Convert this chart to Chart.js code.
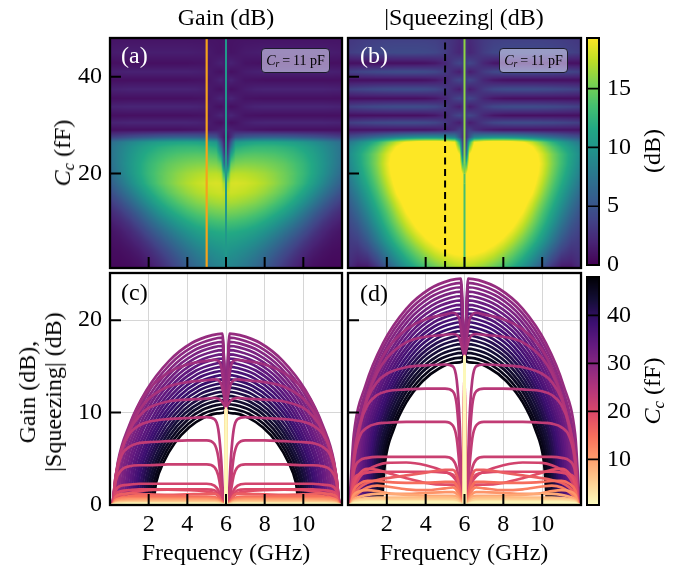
<!DOCTYPE html>
<html>
<head>
<meta charset="utf-8">
<title>Gain and squeezing versus coupling capacitance</title>
<script src="https://cdn.jsdelivr.net/npm/chart.js"></script>
<style>
  html, body { margin: 0; padding: 0; background: #fff; }
  #fig { position: relative; width: 688px; height: 573px; overflow: hidden;
         font-family: 'Liberation Serif', 'Times New Roman', serif; color: #000; }
  #fig canvas { position: absolute; left: 0; top: 0; }
  .txt { position: absolute; white-space: nowrap; font-size: 24px; line-height: 1; }
  .ctr { transform: translate(-50%, -50%); }
  .rot { transform: translate(-50%, -50%) rotate(-90deg); text-align: center; }
  sub { font-size: 0.7em; vertical-align: -0.25em; line-height: 0; }
  .box { position: absolute; box-sizing: border-box; border: 1.5px solid #1c1c2c; border-radius: 4px;
         background: rgba(214, 214, 240, 0.6); font-size: 14px; line-height: 1;
         display: flex; align-items: center; justify-content: center; white-space: nowrap; }
</style>
</head>
<body>
<div id="fig">
  <canvas id="panelA" width="688" height="573"></canvas>
  <canvas id="panelB" width="688" height="573"></canvas>
  <canvas id="panelC" width="688" height="573"></canvas>
  <canvas id="panelD" width="688" height="573"></canvas>
  <canvas id="barDb" width="688" height="573"></canvas>
  <canvas id="barCc" width="688" height="573"></canvas>

  <div class="txt ctr" style="left:226px;top:17px">Gain (dB)</div>
  <div class="txt ctr" style="left:464px;top:17px">|Squeezing| (dB)</div>
  <div class="txt rot" style="left:62px;top:153px"><i>C<sub>c</sub></i> (fF)</div>
  <div class="txt rot" style="left:40px;top:392px;line-height:26px">Gain (dB),<br>|Squeezing| (dB)</div>
  <div class="txt ctr" style="left:226px;top:552px">Frequency (GHz)</div>
  <div class="txt ctr" style="left:464px;top:552px">Frequency (GHz)</div>
  <div class="txt rot" style="left:652px;top:151px">(dB)</div>
  <div class="txt rot" style="left:652px;top:391px"><i>C<sub>c</sub></i> (fF)</div>

  <div class="txt" style="left:121px;top:43px;color:#fff">(a)</div>
  <div class="txt" style="left:360px;top:43px;color:#fff">(b)</div>
  <div class="txt" style="left:121px;top:280px">(c)</div>
  <div class="txt" style="left:360px;top:281px">(d)</div>

  <div class="box" style="left:261px;top:48px;width:69px;height:25px"><i>C<sub>r</sub></i>&thinsp;=&thinsp;11 pF</div>
  <div class="box" style="left:499px;top:48px;width:69px;height:25px"><i>C<sub>r</sub></i>&thinsp;=&thinsp;11 pF</div>
</div>

<script>
// ---------------------------------------------------------------- axes
const FREQ_MIN = 0, FREQ_MAX = 12, CENTER_FREQ = 6;
const CC_MIN = 0.5, CC_MAX = 48;
const MAP_DB_MAX = 19.3;
const LINE_DB_MAX = 25.1;
const FREQ_TICKS = [2, 4, 6, 8, 10];
const CC_TICKS = [20, 40];
const DB_TICKS = [0, 10, 20];
const BAR_DB_TICKS = [0, 5, 10, 15];
const BAR_CC_TICKS = [10, 20, 30, 40];
const CUT_FREQ = 5;

// ---------------------------------------------------------------- maps at Cr = 11 pF
// left half of the frequency grid; the maps are mirror-symmetric about 6 GHz
const MAP_FREQ = [0, 0.5, 1, 1.5, 2, 2.5, 3, 3.5, 4, 4.5, 5, 5.5, 5.75, 5.9];
const MAP_CC = [0.5, 2, 4, 6, 8, 10, 12, 14, 16, 18, 20, 22, 24, 25.5, 26.5, 27.5,
                29, 30.5, 32, 33.8, 35.5, 37.4, 39.3, 41, 42.8, 45, 48];

const GAIN_MAP = [
  [0.4, 0.4, 0.5, 0.7, 1.2, 2.0, 3.0, 4.2, 5.5, 6.6, 7.6, 8.3, 8.6, 8.8],
  [0.5, 0.5, 0.7, 1.0, 1.6, 2.5, 3.6, 4.8, 6.1, 7.2, 8.1, 8.8, 9.0, 9.2],
  [0.6, 0.7, 1.0, 1.5, 2.3, 3.4, 4.6, 5.9, 7.1, 8.2, 9.0, 9.6, 9.8, 10.0],
  [0.8, 1.0, 1.5, 2.2, 3.3, 4.6, 5.9, 7.2, 8.4, 9.4, 10.1, 10.6, 10.7, 10.9],
  [1.0, 1.4, 2.1, 3.2, 4.6, 6.0, 7.4, 8.7, 9.8, 10.7, 11.3, 11.7, 11.8, 11.9],
  [1.5, 2.1, 3.1, 4.5, 6.1, 7.7, 9.1, 10.4, 11.5, 12.4, 13.0, 13.4, 13.5, 13.6],
  [2.2, 3.1, 4.4, 6.0, 7.8, 9.5, 11.0, 12.2, 13.3, 14.1, 14.7, 15.1, 15.2, 15.3],
  [3.2, 4.4, 6.0, 7.8, 9.6, 11.3, 12.7, 13.9, 14.9, 15.7, 16.2, 16.6, 16.7, 16.6],
  [4.4, 5.9, 7.6, 9.4, 11.2, 12.8, 14.2, 15.3, 16.2, 16.9, 17.4, 17.7, 17.8, 17.5],
  [5.6, 7.2, 9.0, 10.8, 12.5, 14.0, 15.2, 16.2, 17.0, 17.6, 18.0, 18.2, 18.1, 16.5],
  [6.5, 8.1, 9.8, 11.4, 12.9, 14.1, 15.1, 15.9, 16.5, 16.9, 17.2, 17.3, 17.0, 12.5],
  [7.0, 8.5, 10.0, 11.4, 12.7, 13.7, 14.5, 15.0, 15.4, 15.6, 15.7, 15.5, 14.5, 6.5],
  [7.2, 8.5, 9.8, 11.0, 12.0, 12.8, 13.4, 13.8, 14.0, 14.1, 14.0, 13.6, 10.5, 3.5],
  [7.2, 8.3, 9.4, 10.4, 11.2, 11.9, 12.3, 12.6, 12.7, 12.7, 12.4, 11.8, 7.0, 2.2],
  [6.8, 7.7, 8.6, 9.4, 10.1, 10.6, 11.0, 11.2, 11.3, 11.2, 10.8, 10.0, 5.0, 1.8],
  [3.6, 4.1, 4.6, 5.0, 5.3, 5.6, 5.8, 5.9, 5.9, 5.8, 5.5, 4.8, 2.4, 1.2],
  [0.8, 0.8, 0.8, 0.8, 0.8, 0.8, 0.8, 0.8, 0.9, 1.0, 1.2, 1.5, 1.8, 1.8],
  [1.8, 1.9, 2.0, 2.0, 2.0, 2.0, 2.0, 2.0, 2.0, 1.9, 1.6, 1.0, 0.8, 1.2],
  [0.8, 0.8, 0.8, 0.8, 0.8, 0.8, 0.8, 0.8, 0.8, 0.9, 1.0, 1.6, 2.0, 1.6],
  [1.8, 1.9, 2.0, 2.0, 2.0, 2.0, 2.0, 2.0, 2.0, 1.9, 1.6, 1.0, 0.8, 1.2],
  [0.8, 0.8, 0.8, 0.8, 0.8, 0.8, 0.8, 0.8, 0.8, 0.9, 1.0, 1.6, 2.0, 1.6],
  [1.7, 1.8, 1.9, 1.9, 1.9, 1.9, 1.9, 1.9, 1.9, 1.8, 1.5, 1.0, 0.8, 1.2],
  [0.8, 0.8, 0.8, 0.8, 0.8, 0.8, 0.8, 0.8, 0.8, 0.9, 1.0, 1.5, 1.9, 1.5],
  [1.6, 1.7, 1.8, 1.8, 1.8, 1.8, 1.8, 1.8, 1.8, 1.7, 1.5, 1.0, 0.8, 1.2],
  [0.8, 0.8, 0.8, 0.8, 0.8, 0.8, 0.8, 0.8, 0.8, 0.9, 1.0, 1.5, 1.8, 1.5],
  [1.4, 1.5, 1.6, 1.6, 1.6, 1.6, 1.6, 1.6, 1.6, 1.5, 1.4, 1.1, 1.0, 1.2],
  [1.0, 1.0, 1.0, 1.0, 1.0, 1.0, 1.0, 1.0, 1.0, 1.0, 1.0, 1.0, 1.0, 1.0]
];

const SQUEEZE_MAP = [
  [2.5, 1.2, 1.2, 2.8, 5.0, 7.4, 9.6, 11.6, 13.3, 14.7, 15.8, 16.6, 16.9, 17.0],
  [2.8, 2.0, 2.4, 4.2, 6.6, 9.0, 11.3, 13.3, 15.0, 16.4, 17.4, 18.1, 18.3, 18.4],
  [3.0, 2.8, 3.8, 5.9, 8.4, 10.9, 13.2, 15.2, 16.9, 18.3, 19.3, 19.9, 20.0, 20.0],
  [3.2, 3.6, 5.2, 7.6, 10.2, 12.7, 15.0, 17.0, 18.7, 20.0, 20.5, 21.0, 21.0, 21.0],
  [3.5, 4.5, 6.4, 8.9, 11.6, 14.2, 16.6, 18.6, 20.2, 21.0, 21.5, 22.0, 22.0, 22.0],
  [4.0, 5.4, 7.6, 10.2, 12.9, 15.6, 18.0, 20.0, 21.5, 22.0, 22.0, 22.0, 22.0, 22.0],
  [4.6, 6.4, 8.7, 11.3, 14.0, 16.8, 19.3, 21.0, 22.0, 22.0, 22.0, 22.0, 22.0, 22.0],
  [5.4, 7.4, 9.8, 12.4, 15.2, 18.0, 20.4, 22.0, 22.0, 22.0, 22.0, 22.0, 22.0, 22.0],
  [6.3, 8.4, 10.8, 13.5, 16.4, 19.3, 21.5, 22.0, 22.0, 22.0, 22.0, 22.0, 22.0, 22.0],
  [7.2, 9.4, 11.8, 14.5, 17.4, 20.2, 22.0, 22.0, 22.0, 22.0, 22.0, 22.0, 22.0, 21.5],
  [8.0, 10.2, 12.6, 15.3, 18.2, 20.8, 22.0, 22.0, 22.0, 22.0, 22.0, 22.0, 21.8, 19.0],
  [8.6, 10.8, 13.2, 15.8, 18.6, 21.0, 22.0, 22.0, 22.0, 22.0, 22.0, 22.0, 21.0, 13.0],
  [9.0, 11.0, 13.2, 15.6, 18.2, 20.5, 22.0, 22.0, 22.0, 22.0, 22.0, 21.5, 19.0, 7.0],
  [8.5, 10.2, 12.0, 14.2, 16.8, 19.3, 21.0, 21.8, 22.0, 22.0, 21.5, 20.5, 15.0, 5.0],
  [7.5, 9.0, 10.5, 12.5, 15.0, 17.5, 19.5, 20.5, 21.0, 21.0, 20.5, 19.0, 12.0, 4.0],
  [4.5, 5.2, 6.0, 6.8, 7.6, 8.4, 9.0, 9.4, 9.6, 9.6, 9.3, 8.4, 5.0, 2.8],
  [1.0, 1.0, 1.0, 1.0, 1.0, 1.0, 1.0, 1.0, 1.0, 1.2, 1.6, 2.5, 3.5, 3.0],
  [3.5, 3.8, 4.0, 4.2, 4.3, 4.4, 4.4, 4.4, 4.3, 4.0, 3.2, 2.0, 1.5, 2.5],
  [0.8, 0.8, 0.8, 0.8, 0.8, 0.8, 0.8, 0.8, 0.9, 1.2, 2.0, 3.5, 4.0, 3.5],
  [3.6, 3.9, 4.1, 4.3, 4.4, 4.5, 4.5, 4.5, 4.4, 4.1, 3.3, 2.0, 1.5, 2.5],
  [0.8, 0.8, 0.8, 0.8, 0.8, 0.8, 0.8, 0.8, 0.9, 1.2, 2.0, 3.5, 4.0, 3.5],
  [3.6, 3.9, 4.1, 4.3, 4.4, 4.5, 4.5, 4.5, 4.4, 4.1, 3.3, 2.0, 1.5, 2.5],
  [0.8, 0.8, 0.8, 0.8, 0.8, 0.8, 0.8, 0.8, 0.9, 1.2, 2.0, 3.5, 4.0, 3.5],
  [3.6, 3.9, 4.1, 4.3, 4.4, 4.5, 4.5, 4.5, 4.4, 4.1, 3.3, 2.0, 1.5, 2.5],
  [0.8, 0.8, 0.8, 0.8, 0.8, 0.8, 0.8, 0.8, 0.9, 1.2, 2.0, 3.5, 4.0, 3.5],
  [3.4, 3.7, 3.9, 4.1, 4.2, 4.3, 4.3, 4.3, 4.2, 4.0, 3.4, 2.4, 2.0, 2.6],
  [3.0, 3.2, 3.4, 3.5, 3.6, 3.6, 3.6, 3.6, 3.6, 3.5, 3.2, 2.6, 2.2, 2.6]
];

// the single 6 GHz column, one value per MAP_CC row
const GAIN_AT_6GHZ_MAP = [10.2, 10.2, 10.2, 10.2, 10.2, 10.2, 10.2, 10.2, 10.2, 10.2, 10.2, 10.2, 10.2, 10.2,
                          10.2, 10.2, 10.2, 10.2, 10.2, 10.2, 10.2, 10.2, 10.2, 10.2, 10.2, 10.2, 10.2];
const SQUEEZE_AT_6GHZ_MAP = [13.5, 13.5, 13.5, 13.5, 13.5, 13.5, 13.5, 13.5, 13.5, 13.5, 14.5, 16.0, 16.0, 16.0,
                             16.0, 16.0, 16.0, 16.0, 16.0, 16.0, 16.0, 16.0, 16.0, 16.0, 16.0, 16.0, 16.0];

// ---------------------------------------------------------------- line cuts, left half (mirrored about 6 GHz)
const GAIN_CENTER_DB = 10.4;
const SQUEEZE_CENTER_DB = 16.1;

// broad lobes for the larger coupling capacitances
const ARC_CC = [47, 46, 45, 44, 43, 42, 41, 40, 39, 38, 37, 36, 35, 34, 33, 32, 31, 30, 29, 28];

const GAIN_ARC_FREQ = [
  [2.20, 2.39, 2.77, 3.34, 4.10, 4.86, 5.54, 5.89],
  [2.09, 2.29, 2.68, 3.26, 4.05, 4.83, 5.53, 5.88],
  [1.98, 2.18, 2.58, 3.19, 3.99, 4.79, 5.52, 5.88],
  [1.87, 2.08, 2.49, 3.11, 3.94, 4.76, 5.50, 5.88],
  [1.76, 1.97, 2.40, 3.03, 3.88, 4.73, 5.49, 5.87],
  [1.65, 1.87, 2.30, 2.96, 3.83, 4.70, 5.48, 5.87],
  [1.54, 1.76, 2.21, 2.88, 3.77, 4.66, 5.46, 5.87],
  [1.43, 1.66, 2.12, 2.80, 3.72, 4.63, 5.45, 5.86],
  [1.32, 1.55, 2.02, 2.72, 3.66, 4.60, 5.44, 5.86],
  [1.21, 1.45, 1.93, 2.65, 3.61, 4.56, 5.43, 5.86],
  [1.10, 1.35, 1.84, 2.57, 3.55, 4.53, 5.41, 5.85],
  [0.99, 1.24, 1.74, 2.49, 3.50, 4.50, 5.40, 5.85],
  [0.88, 1.14, 1.65, 2.42, 3.44, 4.46, 5.39, 5.85],
  [0.77, 1.03, 1.55, 2.34, 3.39, 4.43, 5.37, 5.84],
  [0.66, 0.93, 1.46, 2.26, 3.33, 4.40, 5.36, 5.84],
  [0.55, 0.82, 1.37, 2.18, 3.28, 4.37, 5.35, 5.84],
  [0.44, 0.72, 1.27, 2.11, 3.22, 4.33, 5.33, 5.83],
  [0.33, 0.61, 1.18, 2.03, 3.17, 4.30, 5.32, 5.83],
  [0.22, 0.51, 1.09, 1.95, 3.11, 4.27, 5.31, 5.83],
  [0.11, 0.40, 0.99, 1.88, 3.06, 4.23, 5.29, 5.82]
];
const GAIN_ARC_DB = [
  [0, 2.47, 4.63, 6.68, 8.41, 9.45, 9.91, 10.0],
  [0, 2.58, 4.84, 6.98, 8.79, 9.88, 10.36, 10.45],
  [0, 2.69, 5.05, 7.28, 9.17, 10.30, 10.80, 10.9],
  [0, 2.80, 5.26, 7.58, 9.55, 10.73, 11.25, 11.35],
  [0, 2.91, 5.46, 7.88, 9.92, 11.15, 11.69, 11.8],
  [0, 3.03, 5.67, 8.18, 10.30, 11.58, 12.14, 12.25],
  [0, 3.14, 5.88, 8.48, 10.68, 12.00, 12.59, 12.7],
  [0, 3.25, 6.09, 8.78, 11.06, 12.43, 13.03, 13.15],
  [0, 3.36, 6.30, 9.08, 11.44, 12.85, 13.48, 13.6],
  [0, 3.47, 6.51, 9.39, 11.82, 13.28, 13.92, 14.05],
  [0, 3.58, 6.71, 9.69, 12.19, 13.70, 14.37, 14.5],
  [0, 3.69, 6.92, 9.99, 12.57, 14.13, 14.82, 14.95],
  [0, 3.80, 7.13, 10.29, 12.95, 14.55, 15.26, 15.4],
  [0, 3.91, 7.34, 10.59, 13.33, 14.98, 15.71, 15.85],
  [0, 4.03, 7.55, 10.89, 13.71, 15.40, 16.15, 16.3],
  [0, 4.14, 7.76, 11.19, 14.09, 15.83, 16.60, 16.75],
  [0, 4.25, 7.96, 11.49, 14.47, 16.25, 17.05, 17.2],
  [0, 4.36, 8.17, 11.79, 14.84, 16.68, 17.49, 17.65],
  [0, 4.47, 8.38, 12.09, 15.22, 17.10, 17.94, 18.1],
  [0, 4.58, 8.59, 12.39, 15.60, 17.53, 18.38, 18.55]
];

const SQUEEZE_ARC_FREQ = [
  [1.70, 1.92, 2.35, 2.99, 3.85, 4.71, 5.48, 5.87],
  [1.61, 1.83, 2.27, 2.93, 3.81, 4.68, 5.47, 5.87],
  [1.52, 1.75, 2.19, 2.86, 3.76, 4.66, 5.46, 5.87],
  [1.43, 1.66, 2.12, 2.80, 3.72, 4.63, 5.45, 5.86],
  [1.34, 1.58, 2.04, 2.74, 3.67, 4.60, 5.44, 5.86],
  [1.25, 1.49, 1.96, 2.68, 3.63, 4.58, 5.43, 5.86],
  [1.16, 1.41, 1.89, 2.61, 3.58, 4.55, 5.42, 5.86],
  [1.07, 1.32, 1.81, 2.55, 3.54, 4.52, 5.41, 5.85],
  [0.98, 1.24, 1.74, 2.49, 3.49, 4.49, 5.40, 5.85],
  [0.89, 1.15, 1.66, 2.43, 3.45, 4.47, 5.39, 5.85],
  [0.81, 1.07, 1.58, 2.36, 3.40, 4.44, 5.38, 5.84],
  [0.72, 0.98, 1.51, 2.30, 3.36, 4.41, 5.37, 5.84],
  [0.63, 0.90, 1.43, 2.24, 3.31, 4.39, 5.36, 5.84],
  [0.54, 0.81, 1.36, 2.17, 3.27, 4.36, 5.34, 5.84],
  [0.45, 0.73, 1.28, 2.11, 3.22, 4.33, 5.33, 5.83],
  [0.36, 0.64, 1.20, 2.05, 3.18, 4.31, 5.32, 5.83],
  [0.27, 0.56, 1.13, 1.99, 3.13, 4.28, 5.31, 5.83],
  [0.18, 0.47, 1.05, 1.92, 3.09, 4.25, 5.30, 5.82],
  [0.09, 0.39, 0.98, 1.86, 3.04, 4.23, 5.29, 5.82],
  [0.02, 0.30, 0.90, 1.80, 3.00, 4.20, 5.28, 5.82]
];
const SQUEEZE_ARC_DB = [
  [0, 4.84, 8.17, 11.07, 13.42, 14.79, 15.39, 15.5],
  [0, 4.98, 8.42, 11.40, 13.83, 15.24, 15.86, 15.97],
  [0, 5.13, 8.67, 11.75, 14.25, 15.69, 16.33, 16.45],
  [0, 5.28, 8.92, 12.08, 14.65, 16.14, 16.80, 16.92],
  [0, 5.43, 9.17, 12.42, 15.07, 16.60, 17.28, 17.40],
  [0, 5.58, 9.42, 12.76, 15.48, 17.05, 17.75, 17.87],
  [0, 5.72, 9.67, 13.09, 15.88, 17.50, 18.21, 18.34],
  [0, 5.87, 9.92, 13.44, 16.30, 17.95, 18.69, 18.82],
  [0, 6.02, 10.17, 13.77, 16.71, 18.40, 19.15, 19.29],
  [0, 6.17, 10.42, 14.12, 17.12, 18.86, 19.63, 19.77],
  [0, 6.31, 10.67, 14.45, 17.53, 19.31, 20.10, 20.24],
  [0, 6.46, 10.91, 14.79, 17.93, 19.76, 20.57, 20.71],
  [0, 6.61, 11.17, 15.13, 18.35, 20.21, 21.04, 21.19],
  [0, 6.76, 11.41, 15.47, 18.76, 20.66, 21.51, 21.66],
  [0, 6.91, 11.67, 15.81, 19.17, 21.12, 21.98, 22.14],
  [0, 7.05, 11.92, 16.14, 19.58, 21.57, 22.45, 22.61],
  [0, 7.20, 12.16, 16.48, 19.99, 22.02, 22.92, 23.08],
  [0, 7.35, 12.42, 16.82, 20.40, 22.48, 23.40, 23.56],
  [0, 7.50, 12.66, 17.16, 20.81, 22.92, 23.86, 24.03],
  [0, 7.64, 12.91, 17.49, 21.22, 23.37, 24.33, 24.5]
];

// plateau-shaped and low curves for the smaller coupling capacitances
const LOW_CC = [27, 26, 25, 24, 23, 22, 21, 20, 19, 17, 15, 13, 11, 9, 7, 5, 3, 1];
const LOW_FREQ = [0, 0.1, 0.3, 0.6, 1, 1.5, 2, 3, 4, 5, 5.4, 5.6, 5.75, 5.88, 5.97];

const GAIN_LOW_DB = [
  [0, 0, 2.8, 5.6, 8.4, 10.9, 12.5, 14.3, 15.2, 15.6, 15.7, 15.6, 15.0, 13.0, 11.2],
  [0, 0, 3.0, 5.8, 8.2, 10.2, 11.5, 12.8, 13.3, 13.5, 13.6, 13.5, 13.1, 12.0, 10.9],
  [0, 0, 3.2, 6.0, 8.1, 9.6, 10.5, 11.2, 11.4, 11.5, 11.6, 11.5, 11.3, 10.9, 10.6],
  [0, 0, 3.3, 6.0, 7.7, 8.6, 9.0, 9.3, 9.4, 9.5, 9.3, 8.2, 5.0, 0.3, 0],
  [0, 0, 3.2, 5.4, 6.3, 6.7, 6.8, 6.9, 7.0, 7.0, 6.6, 5.2, 2.5, 0.3, 0],
  [0, 0, 2.6, 3.8, 4.2, 4.3, 4.3, 4.4, 4.4, 4.4, 4.1, 3.2, 1.5, 0.2, 0],
  [0, 0, 1.6, 2.1, 2.2, 2.3, 2.3, 2.3, 2.3, 2.3, 2.1, 1.6, 0.8, 0.1, 0],
  [0, 0, 1.2, 1.5, 1.6, 1.7, 1.7, 1.7, 1.7, 1.7, 1.6, 1.2, 0.6, 0.1, 0],
  [0, 0, 0.6, 1.0, 1.3, 1.5, 1.6, 1.65, 1.6, 1.45, 1.3, 1.0, 0.5, 0.1, 0],
  [0, 0, 0.9, 1.2, 1.25, 1.2, 1.15, 1.1, 1.15, 1.2, 1.2, 1.0, 0.5, 0.1, 0],
  [0, 0, 0.5, 0.8, 0.95, 1.0, 1.0, 0.95, 0.9, 0.9, 0.85, 0.7, 0.4, 0.1, 0],
  [0, 0, 0.55, 0.7, 0.75, 0.75, 0.75, 0.75, 0.75, 0.75, 0.7, 0.55, 0.3, 0.05, 0],
  [0, 0, 0.4, 0.55, 0.6, 0.6, 0.6, 0.6, 0.6, 0.6, 0.55, 0.45, 0.25, 0.05, 0],
  [0, 0, 0.3, 0.42, 0.46, 0.47, 0.47, 0.47, 0.47, 0.47, 0.44, 0.36, 0.2, 0.05, 0],
  [0, 0, 0.22, 0.32, 0.35, 0.36, 0.36, 0.36, 0.36, 0.36, 0.34, 0.28, 0.15, 0.03, 0],
  [0, 0, 0.15, 0.23, 0.26, 0.27, 0.27, 0.27, 0.27, 0.27, 0.25, 0.2, 0.1, 0.02, 0],
  [0, 0, 0.1, 0.15, 0.17, 0.18, 0.18, 0.18, 0.18, 0.18, 0.17, 0.14, 0.07, 0.01, 0],
  [0, 0, 0.05, 0.08, 0.09, 0.1, 0.1, 0.1, 0.1, 0.1, 0.09, 0.07, 0.04, 0.01, 0]
];

const SQUEEZE_LOW_DB = [
  [0, 0, 4.5, 8.2, 11.8, 14.8, 16.8, 19.0, 20.1, 20.6, 20.8, 20.6, 20.0, 18.0, 16.6],
  [0, 0, 4.8, 8.5, 11.8, 14.3, 15.9, 17.6, 18.2, 18.4, 18.5, 18.4, 18.0, 17.0, 16.3],
  [0, 0, 5.0, 8.6, 11.5, 13.3, 14.2, 14.9, 15.1, 15.2, 15.0, 13.5, 9.0, 0.5, 0],
  [0, 0, 5.2, 8.6, 10.8, 11.9, 12.3, 12.5, 12.6, 12.6, 12.3, 10.8, 6.5, 0.4, 0],
  [0, 0, 4.8, 7.4, 8.4, 8.8, 8.9, 9.0, 9.0, 9.0, 8.6, 7.2, 4.0, 0.3, 0],
  [0, 0, 3.6, 4.8, 5.1, 5.2, 5.2, 5.2, 5.2, 5.2, 4.9, 4.0, 2.2, 0.2, 0],
  [0, 0, 1.8, 3.0, 3.8, 4.3, 4.55, 4.6, 4.3, 3.6, 3.1, 2.5, 1.4, 0.1, 0],
  [0, 0, 2.8, 3.3, 3.5, 3.6, 3.6, 3.6, 3.6, 3.5, 3.3, 2.6, 1.4, 0.1, 0],
  [0, 0, 2.2, 3.4, 3.9, 3.8, 3.5, 2.9, 2.4, 2.2, 2.2, 1.9, 1.0, 0.1, 0],
  [0, 0, 1.2, 1.9, 2.4, 2.7, 2.9, 3.2, 3.5, 3.8, 3.8, 3.2, 1.8, 0.1, 0],
  [0, 0, 1.6, 2.3, 2.6, 2.6, 2.5, 2.4, 2.4, 2.5, 2.5, 2.1, 1.2, 0.1, 0],
  [0, 0, 0.8, 1.4, 1.9, 2.1, 2.0, 1.7, 1.6, 1.8, 1.9, 1.6, 0.9, 0.1, 0],
  [0, 0, 1.1, 1.5, 1.6, 1.5, 1.3, 1.2, 1.3, 1.4, 1.4, 1.2, 0.7, 0.1, 0],
  [0, 0, 0.6, 0.9, 1.1, 1.2, 1.2, 1.1, 1.0, 1.0, 1.0, 0.9, 0.5, 0.1, 0],
  [0, 0, 0.45, 0.65, 0.75, 0.8, 0.8, 0.8, 0.8, 0.8, 0.78, 0.65, 0.35, 0.05, 0],
  [0, 0, 0.35, 0.5, 0.55, 0.57, 0.57, 0.57, 0.57, 0.57, 0.55, 0.45, 0.25, 0.03, 0],
  [0, 0, 0.25, 0.35, 0.4, 0.4, 0.4, 0.4, 0.4, 0.4, 0.38, 0.3, 0.17, 0.02, 0],
  [0, 0, 0.15, 0.22, 0.25, 0.26, 0.26, 0.26, 0.26, 0.26, 0.25, 0.2, 0.1, 0.01, 0]
];

// ---------------------------------------------------------------- colour maps
const VIRIDIS = ['#440154', '#482475', '#414487', '#355f8d', '#2a788e', '#21918c',
                 '#22a884', '#44bf70', '#7ad151', '#bddf26', '#fde725'];
const MAGMA = ['#000004', '#140e36', '#3b0f70', '#641a80', '#8c2981', '#b73779',
               '#de4968', '#f7705c', '#fe9f6d', '#fecf92', '#fcfdbf'];

function hexToRgb(h) {
  const n = parseInt(h.slice(1), 16);
  return [(n >> 16) & 255, (n >> 8) & 255, n & 255];
}
const VIRIDIS_RGB = VIRIDIS.map(hexToRgb);
const MAGMA_RGB = MAGMA.map(hexToRgb);

function sampleStops(stops, t) {
  t = Math.min(1, Math.max(0, t));
  const p = t * (stops.length - 1);
  const i = Math.min(stops.length - 2, Math.floor(p));
  const f = p - i;
  const a = stops[i], b = stops[i + 1];
  return [a[0] + (b[0] - a[0]) * f, a[1] + (b[1] - a[1]) * f, a[2] + (b[2] - a[2]) * f];
}
function rgbCss(c) { return 'rgb(' + Math.round(c[0]) + ',' + Math.round(c[1]) + ',' + Math.round(c[2]) + ')'; }
function viridisDb(v) { return rgbCss(sampleStops(VIRIDIS_RGB, v / MAP_DB_MAX)); }
// reversed magma: small capacitance light, large capacitance dark
function magmaCc(cc) { return rgbCss(sampleStops(MAGMA_RGB, 1 - (cc - CC_MIN) / (CC_MAX - CC_MIN))); }

// ---------------------------------------------------------------- layout helpers
const W = 688, H = 573;
const AXIS_BAND = 40;
const TICK_LEN = 11;
const AREA = {
  a:  { l: 110, t: 38,  r: 342, b: 268 },
  b:  { l: 348, t: 38,  r: 581, b: 268 },
  c:  { l: 110, t: 273, r: 342, b: 505 },
  d:  { l: 348, t: 273, r: 581, b: 505 },
  cb1:{ l: 587, t: 38,  r: 599, b: 265 },
  cb2:{ l: 587, t: 277, r: 599, b: 505 }
};

Chart.defaults.font.family = "'Liberation Serif', 'Times New Roman', serif";
Chart.defaults.font.size = 24;
Chart.defaults.color = '#000';

function fixBand(s) {
  if (s.isHorizontal()) s.height = AXIS_BAND; else s.width = AXIS_BAND;
  s.paddingLeft = s.paddingRight = s.paddingTop = s.paddingBottom = 0;
}
function useTicks(values) { return s => { s.ticks = values.map(v => ({ value: v })); }; }

function baseOptions(area, rightAxis) {
  return {
    responsive: false,
    animation: false,
    events: [],
    layout: {
      autoPadding: false,
      padding: rightAxis
        ? { left: area.l, top: area.t, right: W - area.r - AXIS_BAND, bottom: H - area.b - AXIS_BAND }
        : { left: area.l - AXIS_BAND, top: area.t, right: W - area.r, bottom: H - area.b - AXIS_BAND }
    },
    plugins: { legend: { display: false }, tooltip: { enabled: false }, title: { display: false } }
  };
}

function axis(min, max, tickValues, showLabels, showGrid, position, padding) {
  return {
    type: 'linear', position: position, min: min, max: max,
    afterBuildTicks: useTicks(tickValues),
    afterFit: fixBand,
    border: { display: false },
    grid: { display: showGrid, drawTicks: false, color: '#d6d6d6', lineWidth: 1 },
    ticks: { display: showLabels, padding: padding, autoSkip: false, maxRotation: 0, minRotation: 0,
             callback: v => String(v) }
  };
}

// inward tick marks and the full frame around a plot
function framePlugin(xTicks, yTicks) {
  return {
    id: 'frame',
    afterDatasetsDraw(chart) {
      const { ctx, chartArea: a, scales: { x, y } } = chart;
      ctx.save();
      ctx.strokeStyle = '#000';
      ctx.lineWidth = 2;
      ctx.beginPath();
      xTicks.forEach(v => { const px = x.getPixelForValue(v); ctx.moveTo(px, a.bottom); ctx.lineTo(px, a.bottom - TICK_LEN); });
      yTicks.forEach(v => { const py = y.getPixelForValue(v); ctx.moveTo(a.left, py); ctx.lineTo(a.left + TICK_LEN, py); });
      ctx.stroke();
      ctx.lineWidth = 2.3;
      ctx.strokeRect(a.left, a.top, a.right - a.left, a.bottom - a.top);
      ctx.restore();
    }
  };
}

// ---------------------------------------------------------------- map panels
function locate(arr, v) {
  const n = arr.length;
  if (v <= arr[0]) return [0, 0];
  if (v >= arr[n - 1]) return [n - 2, 1];
  let i = 0;
  while (arr[i + 1] < v) i++;
  return [i, (v - arr[i]) / (arr[i + 1] - arr[i])];
}

function mirrorColumns(left) { return left.concat(left.slice().reverse().map(f => 2 * CENTER_FREQ - f)); }
function mirrorRow(row) { return row.concat(row.slice().reverse()); }

function heatmapPlugin(freqLeft, ccRows, gridLeft) {
  const cols = mirrorColumns(freqLeft);
  const grid = gridLeft.map(mirrorRow);
  return {
    id: 'heatmap',
    beforeDatasetsDraw(chart) {
      const { ctx, chartArea: a, scales: { x, y } } = chart;
      const x0 = Math.round(a.left), y0 = Math.round(a.top);
      const w = Math.round(a.right) - x0, h = Math.round(a.bottom) - y0;
      const off = document.createElement('canvas');
      off.width = w; off.height = h;
      const octx = off.getContext('2d');
      const img = octx.createImageData(w, h);
      const colLoc = [];
      for (let i = 0; i < w; i++) colLoc.push(locate(cols, x.getValueForPixel(x0 + i + 0.5)));
      for (let j = 0; j < h; j++) {
        const [r, tr] = locate(ccRows, y.getValueForPixel(y0 + j + 0.5));
        const g0 = grid[r], g1 = grid[r + 1];
        for (let i = 0; i < w; i++) {
          const [c, tc] = colLoc[i];
          const v0 = g0[c] + (g0[c + 1] - g0[c]) * tc;
          const v1 = g1[c] + (g1[c + 1] - g1[c]) * tc;
          const rgb = sampleStops(VIRIDIS_RGB, (v0 + (v1 - v0) * tr) / MAP_DB_MAX);
          const k = (j * w + i) * 4;
          img.data[k] = rgb[0]; img.data[k + 1] = rgb[1]; img.data[k + 2] = rgb[2]; img.data[k + 3] = 255;
        }
      }
      octx.putImageData(img, 0, 0);
      ctx.drawImage(off, x0, y0);
    }
  };
}

function centreColumn(values) {
  return {
    data: MAP_CC.map(c => ({ x: CENTER_FREQ, y: c })),
    borderWidth: 2,
    pointRadius: 0,
    borderColor: viridisDb(values[0]),
    segment: { borderColor: ctx => viridisDb((values[ctx.p0DataIndex] + values[ctx.p1DataIndex]) / 2) }
  };
}

function mapChart(id, area, grid, centre, marker, showCcLabels) {
  new Chart(document.getElementById(id), {
    type: 'line',
    data: { datasets: [centreColumn(centre), marker] },
    options: Object.assign(baseOptions(area, false), {
      scales: {
        x: axis(FREQ_MIN, FREQ_MAX, FREQ_TICKS, false, false, 'bottom', 4),
        y: axis(CC_MIN, CC_MAX, CC_TICKS, showCcLabels, false, 'left', 8)
      }
    }),
    plugins: [heatmapPlugin(MAP_FREQ, MAP_CC, grid), framePlugin(FREQ_TICKS, CC_TICKS)]
  });
}

mapChart('panelA', AREA.a, GAIN_MAP, GAIN_AT_6GHZ_MAP, {
  data: [{ x: CUT_FREQ, y: CC_MIN }, { x: CUT_FREQ, y: CC_MAX }],
  borderColor: '#f5a21b', borderWidth: 2.2, pointRadius: 0
}, true);

mapChart('panelB', AREA.b, SQUEEZE_MAP, SQUEEZE_AT_6GHZ_MAP, {
  data: [{ x: CUT_FREQ, y: CC_MIN }, { x: CUT_FREQ, y: CC_MAX }],
  borderColor: '#000', borderWidth: 2, borderDash: [7, 4.5], pointRadius: 0
}, false);

// ---------------------------------------------------------------- line panels
function curvePoints(freqs, vals, centre) {
  const left = freqs.map((f, i) => ({ x: f, y: vals[i] }));
  if (left[0].x > FREQ_MIN) left.unshift({ x: FREQ_MIN, y: 0 });
  const right = left.slice().reverse().map(p => ({ x: 2 * CENTER_FREQ - p.x, y: p.y }));
  return left.concat([{ x: CENTER_FREQ, y: centre }], right);
}

function lineDatasets(arcFreq, arcDb, lowDb, centre) {
  const curves = [];
  ARC_CC.forEach((cc, i) => curves.push({ cc: cc, pts: curvePoints(arcFreq[i], arcDb[i], centre) }));
  LOW_CC.forEach((cc, i) => curves.push({ cc: cc, pts: curvePoints(LOW_FREQ, lowDb[i], centre) }));
  // smallest capacitance listed first so it is painted last (on top)
  curves.sort((p, q) => p.cc - q.cc);
  return curves.map(c => ({
    data: c.pts,
    borderColor: magmaCc(c.cc),
    borderWidth: 2.7,
    pointRadius: 0,
    fill: false,
    cubicInterpolationMode: 'monotone'
  }));
}

function lineChart(id, area, datasets, showDbLabels) {
  new Chart(document.getElementById(id), {
    type: 'line',
    data: { datasets: datasets },
    options: Object.assign(baseOptions(area, false), {
      scales: {
        x: axis(FREQ_MIN, FREQ_MAX, FREQ_TICKS, true, true, 'bottom', 5),
        y: axis(0, LINE_DB_MAX, DB_TICKS, showDbLabels, true, 'left', 8)
      }
    }),
    plugins: [framePlugin(FREQ_TICKS, DB_TICKS)]
  });
}

lineChart('panelC', AREA.c, lineDatasets(GAIN_ARC_FREQ, GAIN_ARC_DB, GAIN_LOW_DB, GAIN_CENTER_DB), true);
lineChart('panelD', AREA.d, lineDatasets(SQUEEZE_ARC_FREQ, SQUEEZE_ARC_DB, SQUEEZE_LOW_DB, SQUEEZE_CENTER_DB), false);

// ---------------------------------------------------------------- colour bars
function colorbarPlugin(colorOf, tickValues) {
  return {
    id: 'colorbar',
    beforeDatasetsDraw(chart) {
      const { ctx, chartArea: a, scales: { y } } = chart;
      ctx.save();
      for (let py = Math.floor(a.top); py < Math.ceil(a.bottom); py++) {
        ctx.fillStyle = colorOf(y.getValueForPixel(py + 0.5));
        ctx.fillRect(a.left, py, a.right - a.left, 1);
      }
      ctx.strokeStyle = '#000';
      ctx.lineWidth = 1.6;
      ctx.beginPath();
      tickValues.forEach(v => { const py = y.getPixelForValue(v); ctx.moveTo(a.left, py); ctx.lineTo(a.right, py); });
      ctx.stroke();
      ctx.lineWidth = 2;
      ctx.strokeRect(a.left, a.top, a.right - a.left, a.bottom - a.top);
      ctx.restore();
    }
  };
}

function colorbar(id, area, min, max, ticks, colorOf) {
  const xAxis = axis(0, 1, [], false, false, 'bottom', 0);
  xAxis.display = false;
  new Chart(document.getElementById(id), {
    type: 'line',
    data: { datasets: [] },
    options: Object.assign(baseOptions(area, true), {
      scales: { x: xAxis, y: axis(min, max, ticks, true, false, 'right', 8) }
    }),
    plugins: [colorbarPlugin(colorOf, ticks)]
  });
}

colorbar('barDb', AREA.cb1, 0, MAP_DB_MAX, BAR_DB_TICKS, viridisDb);
colorbar('barCc', AREA.cb2, CC_MIN, CC_MAX, BAR_CC_TICKS, magmaCc);
</script>
</body>
</html>
